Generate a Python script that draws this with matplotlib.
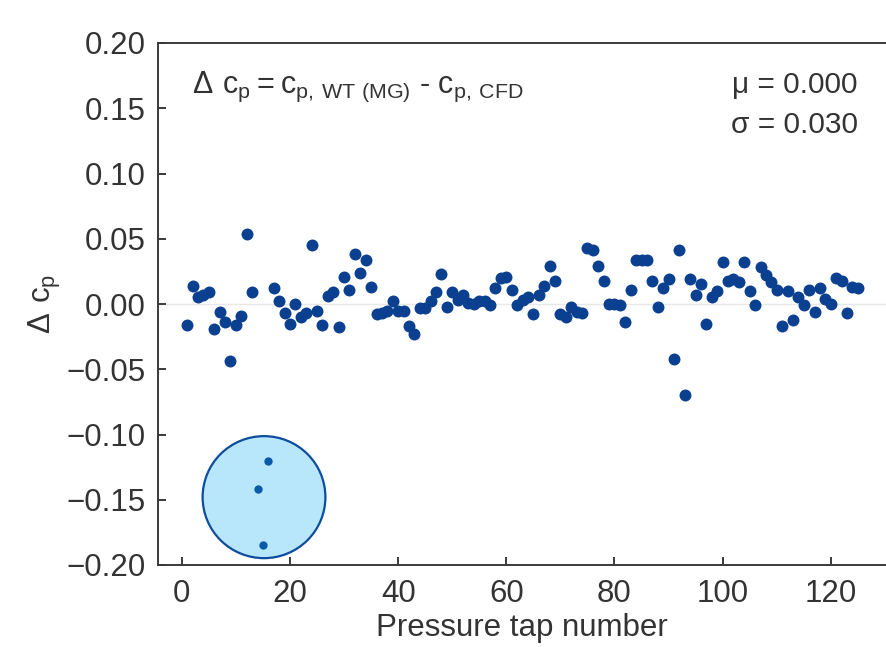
import numpy as np
import matplotlib
matplotlib.use('Agg')
import matplotlib.pyplot as plt
from matplotlib.patches import Ellipse

plt.rcParams['font.family'] = ['Liberation Sans', 'DejaVu Sans']
plt.rcParams['mathtext.default'] = 'regular'

# pressure tap data (taps 14-16 are the highlighted outliers)
taps = [t for t in range(1, 126) if t not in (14, 15, 16)]
dcp = [-0.016, 0.014, 0.005, 0.007, 0.009, -0.019, -0.006, -0.014, -0.044, -0.016,
       -0.009, 0.054, 0.009,
       0.012, 0.002, -0.007, -0.015, 0.000, -0.010, -0.007, 0.045, -0.005, -0.016,
       0.006, 0.009, -0.018, 0.021, 0.011, 0.038, 0.024, 0.034, 0.013, -0.008,
       -0.007, -0.005, 0.002, -0.005, -0.005, -0.017, -0.023, -0.003, -0.003, 0.002,
       0.009, 0.023, -0.002, 0.009, 0.003, 0.007, 0.001, 0.000, 0.002, 0.002,
       -0.001, 0.012, 0.020, 0.021, 0.011, -0.001, 0.003, 0.005, -0.008, 0.007,
       0.014, 0.029, 0.018, -0.008, -0.010, -0.002, -0.006, -0.007, 0.043, 0.041,
       0.029, 0.018, 0.000, 0.000, -0.001, -0.014, 0.011, 0.034, 0.034, 0.034,
       0.018, -0.002, 0.012, 0.019, -0.042, 0.041, -0.070, 0.019, 0.007, 0.015,
       -0.015, 0.005, 0.010, 0.032, 0.018, 0.019, 0.017, 0.032, 0.010, -0.001,
       0.028, 0.022, 0.017, 0.011, -0.017, 0.010, -0.012, 0.005, -0.001, 0.011,
       -0.006, 0.012, 0.004, 0.000, 0.020, 0.018, -0.007, 0.013, 0.012]

out_taps = [14, 15, 16]
out_dcp = [-0.142, -0.185, -0.120]

yticks = [-0.20, -0.15, -0.10, -0.05, 0.00, 0.05, 0.10, 0.15, 0.20]
xticks = [0, 20, 40, 60, 80, 100, 120]

mu = 0.000
sigma = 0.030

fig = plt.figure(figsize=(8.86, 6.47), dpi=100)
ax = fig.add_axes([158/886, 82/647, 728/886, 522/647])

dark = '#3a3a3a'
ax.axhline(0, color='#e8e8e8', lw=1, zorder=0)

circ = Ellipse((15.2, -0.148), width=22.7, height=0.0935, facecolor='#b8e6fb',
               edgecolor='#0d4c9e', lw=1.6, zorder=2)
ax.add_patch(circ)
ax.plot(out_taps, out_dcp, 'o', color='#0a5aab', ms=6, mec='none', zorder=3)

ax.plot(taps, dcp, 'o', color='#0b3f8f', ms=8.6, mec='none', zorder=3)

ax.set_xlim(-4.4, 130.2)
ax.set_ylim(-0.2, 0.2)
ax.set_xticks(xticks)
ax.set_yticks(yticks)
ax.set_yticklabels([('%.2f' % v).replace('-', '\u2212') for v in yticks])

for s in ['left', 'bottom', 'top']:
    ax.spines[s].set_color(dark)
    ax.spines[s].set_linewidth(1.4)
ax.spines['right'].set_visible(False)
ax.tick_params(direction='in', length=6, width=1.4, color=dark,
               labelsize=22.5, labelcolor='#333333')
ax.tick_params(axis='x', pad=10)
ax.tick_params(axis='y', pad=9)

ax.set_xlabel('Pressure tap number', fontsize=22.5, color='#333333', labelpad=3)
ax.set_ylabel(r'$\Delta\ c_p$', fontsize=22.5, color='#333333', labelpad=2)

ax.text(0.047, 0.905, r'$\Delta\ c_p = c_{p,\,WT\ (MG)}$ - $c_{p,\,CFD}$',
        transform=ax.transAxes, fontsize=22, color='#333333', va='baseline')
ax.text(0.961, 0.905, 'μ = %.3f' % mu, transform=ax.transAxes, fontsize=21.5,
        color='#333333', ha='right', va='baseline')
ax.text(0.961, 0.827, 'σ = %.3f' % sigma, transform=ax.transAxes, fontsize=21.5,
        color='#333333', ha='right', va='baseline')

fig.savefig('out.png', dpi=100)
